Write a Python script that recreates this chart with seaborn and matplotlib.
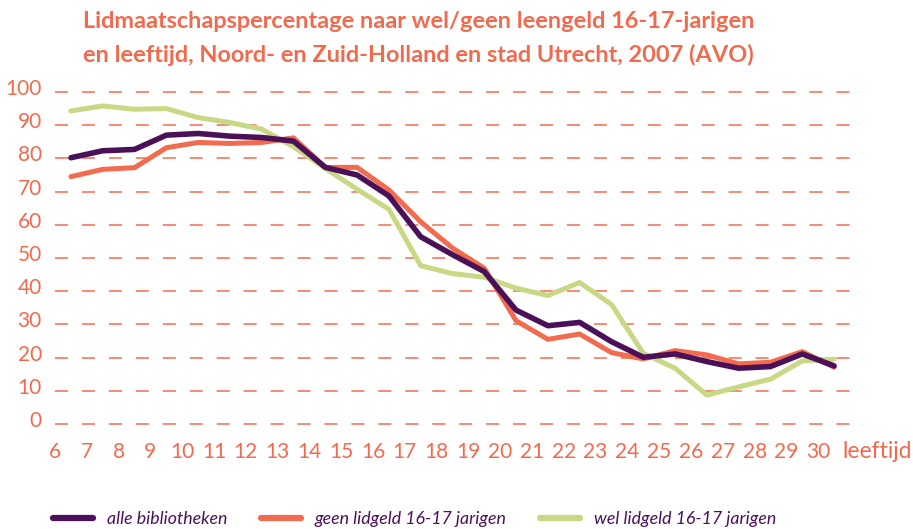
import matplotlib
matplotlib.use("Agg")
import matplotlib.pyplot as plt
import matplotlib.transforms as mtransforms
from matplotlib.lines import Line2D
import seaborn as sns
import pandas as pd

# ---- data ----
ages = list(range(6, 31))
alle = [80.2, 82.3, 82.7, 87.0, 87.5, 86.7, 86.3, 85.2, 77.3, 75.0, 68.7, 56.4, 51.0,
        45.9, 34.3, 29.6, 30.6, 24.8, 20.1, 21.1, 18.8, 16.8, 17.3, 21.1, 17.5]
geen = [74.5, 76.7, 77.2, 83.2, 84.8, 84.5, 84.8, 86.2, 77.3, 77.3, 70.5, 60.9, 53.0,
        46.9, 31.1, 25.5, 27.1, 21.5, 19.6, 22.1, 20.8, 18.1, 18.6, 21.8, 17.1]
wel = [94.3, 95.8, 94.8, 95.0, 92.3, 90.8, 88.8, 83.5, 77.0, 70.7, 64.7, 47.7, 45.3,
       44.2, 40.9, 38.7, 42.6, 36.0, 21.3, 16.8, 8.7, 11.2, 13.5, 19.0, 19.5]
series_names = ["alle bibliotheken", "geen lidgeld 16-17 jarigen", "wel lidgeld 16-17 jarigen"]
y_ticks = list(range(0, 101, 10))
title_lines = ["Lidmaatschapspercentage naar wel/geen leengeld 16-17-jarigen",
               "en leeftijd, Noord- en Zuid-Holland en stad Utrecht, 2007 (AVO)"]
x_label = "leeftijd"

PURPLE = "#4a1159"
ORANGE = "#f26b4f"
GREEN = "#c9d884"
TEXT = "#f26a4e"
GRID = "#f58a74"

sns.set_theme(style="white")
plt.rcParams["font.family"] = ["Lato", "DejaVu Sans"]
plt.rcParams["lines.scale_dashes"] = False

df = pd.DataFrame({"leeftijd": ages, series_names[0]: alle,
                   series_names[1]: geen, series_names[2]: wel})
long = df.melt(id_vars="leeftijd", var_name="reeks", value_name="pct")

W, H = 913, 529
fig = plt.figure(figsize=(W / 100, H / 100), dpi=100)
ylo, yhi = -3, 103
ppu = 3.32
bottom_px = 424 + 3 * ppu
top_px = 92 - 3 * ppu
ax = fig.add_axes([55 / W, (H - bottom_px) / H, 795 / W, (bottom_px - top_px) / H])

colors = {series_names[0]: PURPLE, series_names[1]: ORANGE, series_names[2]: GREEN}
widths = {series_names[0]: 4.0, series_names[1]: 3.6, series_names[2]: 3.6}
for name in [series_names[2], series_names[1], series_names[0]]:
    sub = long[long["reeks"] == name]
    sns.lineplot(data=sub, x="leeftijd", y="pct", color=colors[name],
                 linewidth=widths[name], ax=ax, legend=False, zorder=3)

ax.set_xlim(5.5, 30.5)
ax.set_ylim(ylo, yhi)
ax.set_yticks(y_ticks)
ax.set_yticklabels([str(v) for v in y_ticks])
ax.set_xticks([a - 0.5 for a in ages])
ax.set_xticklabels([str(a) for a in ages])
ax.set_xlabel("")
ax.set_ylabel("")
for s in ax.spines.values():
    s.set_visible(False)
ax.tick_params(axis="both", length=0, labelcolor=TEXT, labelsize=15)
ax.tick_params(axis="y", pad=9.5)
ax.tick_params(axis="x", pad=6)
ax.grid(axis="y", color=GRID, linewidth=1.4, linestyle=(0, (9.4, 10.0)), zorder=0)
ax.grid(axis="x", visible=False)
ax.set_axisbelow(True)

shift = mtransforms.ScaledTranslation(0, 5 / 100, fig.dpi_scale_trans)
for lab in ax.get_yticklabels():
    lab.set_transform(lab.get_transform() + shift)

fig.text(842 / W, 1 - 458 / H, x_label, color=TEXT, fontsize=16.5, va="baseline", ha="left")

fig.text(83 / W, 1 - 28 / H, title_lines[0], color=TEXT, fontsize=16.9,
         fontweight="bold", va="baseline", ha="left")
fig.text(83 / W, 1 - 62 / H, title_lines[1], color=TEXT, fontsize=16.9,
         fontweight="bold", va="baseline", ha="left")

handles = [Line2D([0], [0], color=colors[n], linewidth=4.5, solid_capstyle="round")
           for n in series_names]
leg = fig.legend(handles, series_names, loc="center left",
                 bbox_to_anchor=(53 / W, 1 - 519 / H), ncol=3, frameon=False,
                 borderpad=0, borderaxespad=0, handlelength=2.25, handletextpad=0.79,
                 columnspacing=1.88, prop={"family": "Lato", "style": "italic", "size": 12.8})
for t in leg.get_texts():
    t.set_color(PURPLE)

fig.savefig("out.png", dpi=100)
